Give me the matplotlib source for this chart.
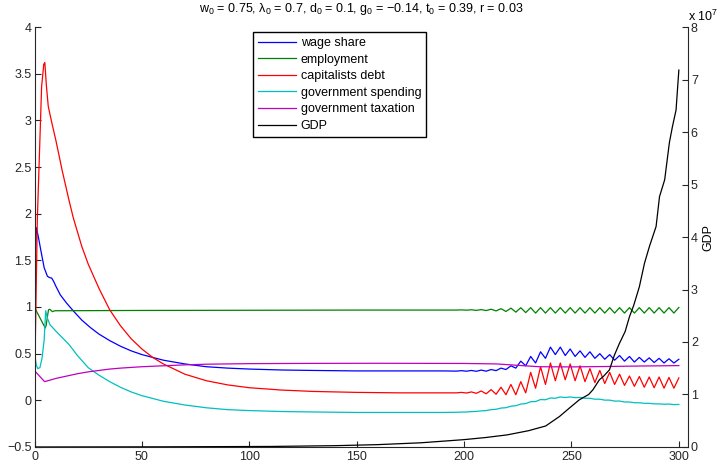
import numpy as np
import matplotlib
matplotlib.use('Agg')
import matplotlib.pyplot as plt

plt.rcParams['font.family'] = ['Liberation Sans', 'DejaVu Sans']
plt.rcParams['mathtext.default'] = 'regular'
plt.rcParams['font.size'] = 9

# time grid of the oscillating tail (peaks / troughs)
t_tail = [196.5, 198.8, 201.1, 203.4, 205.7, 208.0, 210.3, 212.6, 214.9, 217.2,
          219.5, 221.8, 224.1, 226.4, 228.7, 231.0, 233.3, 235.6, 237.9, 240.2,
          242.5, 244.8, 247.1, 249.4, 251.7, 254.0, 256.3, 258.6, 260.9, 263.2,
          265.5, 267.8, 270.1, 272.4, 274.7, 277.0, 279.3, 281.6, 283.9, 286.2,
          288.5, 290.8, 293.1, 295.4, 297.7, 300.0]

# wage share
t_wage = [0, 0.3, 0.9, 1.8, 3, 4.5, 6, 7, 8, 9, 10, 12, 15, 18, 22, 26, 30, 35, 40,
          45, 50, 55, 60, 70, 80, 90, 100, 115, 130, 150, 170, 190]
wage = [0.75, 1.5, 1.85, 1.75, 1.6, 1.42, 1.33, 1.315, 1.31, 1.27, 1.22, 1.13, 1.04,
        0.96, 0.86, 0.78, 0.71, 0.64, 0.58, 0.53, 0.49, 0.46, 0.43, 0.39, 0.36, 0.345,
        0.335, 0.325, 0.32, 0.315, 0.315, 0.315]
wage_tail = [0.313, 0.318, 0.312, 0.320, 0.311, 0.324, 0.312, 0.330, 0.318, 0.345,
             0.330, 0.370, 0.345, 0.420, 0.370, 0.470, 0.400, 0.520, 0.450, 0.570,
             0.490, 0.570, 0.480, 0.550, 0.470, 0.530, 0.460, 0.520, 0.450, 0.500,
             0.440, 0.490, 0.430, 0.480, 0.420, 0.470, 0.410, 0.460, 0.410, 0.455,
             0.405, 0.450, 0.400, 0.445, 0.400, 0.440]

# employment
t_emp = [0, 5.0, 5.4, 6.5, 7.2, 8.3, 9.5, 12, 50, 100, 150, 190]
emp = [0.995, 0.775, 0.80, 0.97, 0.975, 0.95, 0.96, 0.96, 0.963, 0.965, 0.967, 0.967]
emp_tail = [0.967, 0.969, 0.966, 0.970, 0.964, 0.972, 0.962, 0.976, 0.958, 0.982,
            0.952, 0.988, 0.945, 0.992, 0.940, 0.993, 0.935, 0.993, 0.935, 0.993,
            0.935, 0.993, 0.935, 0.993, 0.935, 0.993, 0.935, 0.993, 0.935, 0.993,
            0.935, 0.993, 0.935, 0.993, 0.935, 0.993, 0.935, 0.993, 0.935, 0.993,
            0.935, 0.993, 0.935, 0.993, 0.935, 0.995]

# capitalists debt
t_debt = [0, 1.3, 3.3, 4.3, 4.8, 5.5, 6.4, 8, 10, 13, 16, 18, 22, 25, 30, 35, 40, 45,
          50, 55, 60, 70, 80, 90, 100, 115, 130, 150, 170, 190]
debt = [0.1, 1.93, 3.36, 3.6, 3.62, 3.38, 3.15, 2.98, 2.78, 2.45, 2.15, 1.96, 1.65,
        1.46, 1.2, 0.97, 0.80, 0.66, 0.55, 0.46, 0.39, 0.28, 0.21, 0.165, 0.135, 0.11,
        0.095, 0.085, 0.08, 0.08]
debt_tail = [0.080, 0.085, 0.078, 0.090, 0.075, 0.100, 0.070, 0.115, 0.065, 0.140,
             0.060, 0.170, 0.060, 0.200, 0.080, 0.300, 0.130, 0.360, 0.170, 0.400,
             0.210, 0.400, 0.220, 0.390, 0.210, 0.370, 0.200, 0.340, 0.190, 0.320,
             0.180, 0.300, 0.170, 0.280, 0.160, 0.260, 0.150, 0.255, 0.140, 0.250,
             0.135, 0.250, 0.130, 0.245, 0.130, 0.240]

# government spending
t_spend = [0, 0.4, 0.8, 1.5, 2.5, 3.5, 4.5, 5.2, 6.0, 7.2, 10, 13, 16, 20, 25, 30, 35,
           40, 45, 50, 60, 70, 80, 90, 100, 115, 130, 150, 170, 190]
spend = [-0.14, 0.45, 0.38, 0.34, 0.35, 0.45, 0.65, 0.96, 0.88, 0.81, 0.74, 0.67, 0.60,
         0.48, 0.35, 0.27, 0.20, 0.14, 0.09, 0.05, -0.01, -0.05, -0.08, -0.10,
         -0.11, -0.12, -0.125, -0.13, -0.13, -0.13]
spend_tail = [-0.128, -0.126, -0.125, -0.121, -0.119, -0.113, -0.110, -0.100, -0.096,
              -0.083, -0.079, -0.063, -0.058, -0.040, -0.035, -0.015, -0.013, 0.008,
              0.006, 0.025, 0.022, 0.036, 0.030, 0.036, 0.029, 0.031, 0.022, 0.022,
              0.012, 0.012, 0.002, 0.002, -0.008, -0.008, -0.018, -0.018, -0.026,
              -0.026, -0.032, -0.032, -0.038, -0.038, -0.042, -0.040, -0.046, -0.044]

# government taxation
t_tax = [0, 0.3, 4.7, 10, 15, 20, 25, 30, 35, 40, 50, 60, 70, 80, 100, 130, 160, 200,
         215, 225, 235, 250, 265, 280, 300]
tax = [0.39, 0.31, 0.20, 0.235, 0.26, 0.285, 0.305, 0.32, 0.335, 0.345, 0.36, 0.37,
       0.38, 0.387, 0.393, 0.396, 0.397, 0.395, 0.39, 0.375, 0.36, 0.358, 0.362,
       0.367, 0.372]

# GDP (units of 1e7)
t_gdp = [0, 60, 110, 140, 160, 180, 200, 210, 220, 230, 238, 244.4, 249, 253.7, 258,
         260, 263, 265, 267.7, 270, 272.3, 275, 277, 279, 281.6, 284, 286.3, 289.4,
         291, 293.4, 295.6, 297, 298.7, 300]
gdp = [0.0, 0.003, 0.01, 0.025, 0.045, 0.08, 0.14, 0.18, 0.23, 0.31, 0.40, 0.58, 0.74,
       0.90, 1.0, 1.09, 1.28, 1.35, 1.47, 1.75, 1.97, 2.2, 2.48, 2.7, 3.05, 3.5, 3.82,
       4.2, 4.77, 5.09, 5.8, 6.1, 6.42, 7.18]

left_ticks = [-0.5, 0, 0.5, 1, 1.5, 2, 2.5, 3, 3.5, 4]
left_labels = ['\u22120.5', '0', '0.5', '1', '1.5', '2', '2.5', '3', '3.5', '4']
right_ticks = [0, 1, 2, 3, 4, 5, 6, 7, 8]
x_ticks = [0, 50, 100, 150, 200, 250, 300]

fig = plt.figure(figsize=(7.19, 4.63), dpi=100)
ax = fig.add_axes([0.048, 0.0346, 0.909, 0.907])
ax2 = ax.twinx()

lw = 0.9
h1, = ax.plot(t_wage + t_tail, wage + wage_tail, color=(0, 0, 1), lw=lw, label='wage share')
h2, = ax.plot(t_emp + t_tail, emp + emp_tail, color=(0, 0.5, 0), lw=lw, label='employment')
h3, = ax.plot(t_debt + t_tail, debt + debt_tail, color=(1, 0, 0), lw=lw, label='capitalists debt')
h4, = ax.plot(t_spend + t_tail, spend + spend_tail, color=(0, 0.75, 0.75), lw=lw,
              label='government spending')
h5, = ax.plot(t_tax, tax, color=(0.75, 0, 0.75), lw=lw, label='government taxation')
h6, = ax2.plot(t_gdp, gdp, color='k', lw=lw, label='GDP')

ax.set_xlim(0, 304.3)
ax.set_ylim(-0.5, 4)
ax2.set_ylim(0, 8)
ax.set_xticks(x_ticks)
ax.set_yticks(left_ticks)
ax.set_yticklabels(left_labels)
ax2.set_yticks(right_ticks)

for s in ['top', 'right']:
    ax.spines[s].set_visible(False)
for s in ['top', 'left', 'bottom']:
    ax2.spines[s].set_visible(False)
for s in ax.spines.values():
    s.set_color('0.15')
ax2.spines['right'].set_color('0.15')

ax.tick_params(direction='in', length=4, pad=2, top=False, right=False, colors='0.15')
ax.tick_params(axis='x', pad=3)
ax2.tick_params(direction='in', length=4, pad=2, colors='0.15')

ax2.set_ylabel('GDP', labelpad=3)
fig.text(0.957, 0.955, r'x 10$^{7}$', fontsize=9, ha='left', va='baseline')

ax.set_title('w$_0$ = 0.75, \u03bb$_0$ = 0.7, d$_0$ = 0.1, g$_0$ = \u22120.14, '
             't$_0$ = 0.39, r = 0.03', fontsize=9, pad=11)

leg = ax.legend(handles=[h1, h2, h3, h4, h5, h6], loc='upper left',
                bbox_to_anchor=(0.352, 0.931), bbox_transform=fig.transFigure,
                borderaxespad=0, fancybox=False, framealpha=1, edgecolor='k',
                fontsize=9, labelspacing=0.37, handlelength=3.0, handletextpad=0.4,
                borderpad=0.4)
leg.get_frame().set_linewidth(1.0)
leg.set_zorder(10)

fig.savefig('out.png', dpi=100)
